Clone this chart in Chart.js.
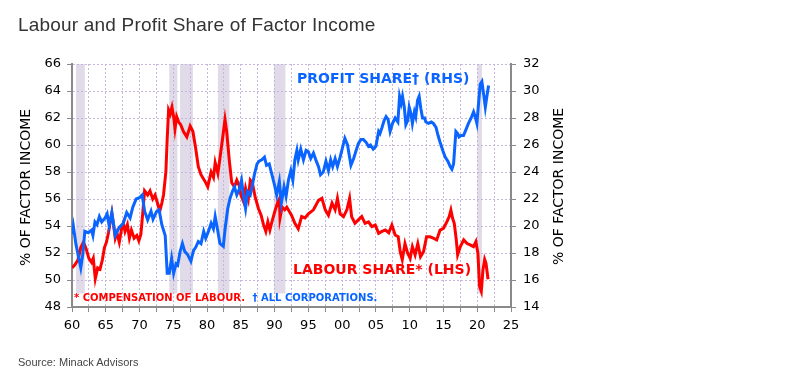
<!DOCTYPE html>
<html><head><meta charset="utf-8">
<script src="https://cdn.jsdelivr.net/npm/chart.js@4"></script>
<style>
html,body{margin:0;padding:0;background:#fff;}
#wrap{position:relative;width:800px;height:383px;overflow:hidden;background:#fff;}
#title{position:absolute;left:18px;top:15px;font:19px "Liberation Sans",Arial,sans-serif;letter-spacing:0.2px;color:#333;white-space:nowrap;line-height:1;}
#source{position:absolute;left:18px;top:357px;font:11px "Liberation Sans",Arial,sans-serif;color:#444;white-space:nowrap;line-height:1;}
canvas{position:absolute;left:0;top:0;}
</style></head><body>
<div id="wrap"><canvas id="c" width="800" height="383"></canvas>
<div id="title">Labour and Profit Share of Factor Income</div>
<div id="source">Source: Minack Advisors</div></div>
<script>
// ---- DATA ----
const labourYears = [1960.0,1960.4,1960.9,1961.3,1961.7,1962.1,1962.5,1962.9,1963.15,1963.45,1963.8,1964.15,1964.5,1964.8,1965.1,1965.4,1965.7,1965.9,1966.15,1966.4,1966.65,1967.0,1967.35,1967.6,1967.85,1968.2,1968.5,1968.8,1969.2,1969.6,1969.9,1970.2,1970.5,1970.75,1971.2,1971.55,1971.95,1972.3,1972.6,1973.0,1973.3,1973.55,1973.9,1974.1,1974.3,1974.55,1974.8,1975.05,1975.25,1975.5,1975.8,1976.1,1976.5,1977.0,1977.5,1977.9,1978.3,1978.7,1979.1,1979.7,1980.1,1980.6,1980.95,1981.2,1981.6,1981.9,1982.3,1982.65,1982.9,1983.3,1983.65,1984.05,1984.4,1984.75,1985.0,1985.4,1985.7,1986.1,1986.4,1986.7,1987.1,1987.6,1988.0,1988.35,1988.7,1989.0,1989.3,1989.6,1990.1,1990.5,1990.7,1990.8,1991.1,1991.5,1991.8,1992.5,1993.0,1993.5,1994.0,1994.5,1995.0,1995.75,1996.5,1997.0,1997.5,1997.97,1998.5,1998.96,1999.3,1999.7,2000.2,2000.7,2001.1,2001.4,2001.9,2002.4,2002.9,2003.4,2003.9,2004.4,2004.9,2005.4,2005.9,2006.4,2006.9,2007.36,2007.85,2008.3,2008.6,2008.9,2009.3,2009.7,2010.07,2010.4,2010.8,2011.2,2011.6,2012.05,2012.5,2013.0,2013.5,2014.0,2014.5,2015.0,2015.5,2015.85,2016.1,2016.35,2016.6,2016.9,2017.1,2017.5,2018.0,2018.5,2018.96,2019.45,2019.8,2020.1,2020.35,2020.6,2020.85,2021.1,2021.3,2021.6];
const labourShare = [50.9,51.1,51.5,52.4,52.8,52.3,51.6,51.3,51.6,50.1,50.9,50.8,51.5,52.4,52.8,53.5,54.4,54.95,54.1,53.1,53.5,52.8,53.8,54.2,53.6,54.1,53.1,53.7,53.1,53.3,52.9,53.4,55.1,56.6,56.3,56.6,56.0,56.3,55.8,55.1,55.7,56.3,58.0,60.5,62.6,62.3,62.8,62.1,61.2,62.1,61.7,61.5,61.0,60.6,61.4,61.0,59.8,58.4,57.8,57.3,56.9,58.0,57.6,58.7,57.9,59.0,60.5,61.9,61.0,58.8,57.2,56.9,57.4,57.0,56.3,55.8,56.8,56.0,57.4,57.2,56.2,55.3,54.8,54.1,53.6,54.3,53.7,54.3,55.2,55.8,56.0,54.6,55.4,55.2,55.4,54.8,54.2,53.8,54.7,54.6,54.9,55.2,55.9,56.05,55.2,54.8,55.7,55.2,56.05,54.9,54.7,55.2,56.05,54.7,54.2,54.45,54.7,54.2,54.3,53.95,54.07,53.46,53.6,53.7,53.5,54.07,53.33,53.2,52.1,51.5,52.7,51.98,51.6,52.47,51.86,52.7,51.73,52.1,53.2,53.2,53.1,52.97,53.7,53.83,54.3,54.7,55.18,54.57,54.2,52.97,51.86,52.47,52.97,52.7,52.6,52.47,52.84,51.98,49.5,49.15,50.75,51.53,51.24,50.06];

const profitYears = [1960.0,1960.2,1960.6,1960.9,1961.3,1961.6,1961.9,1962.4,1962.9,1963.1,1963.4,1963.7,1964.05,1964.4,1964.9,1965.2,1965.5,1965.9,1966.4,1967.0,1967.6,1968.1,1968.6,1969.0,1969.5,1970.0,1970.4,1970.75,1971.2,1971.7,1972.0,1972.5,1972.9,1973.3,1973.8,1974.1,1974.4,1974.75,1975.05,1975.4,1975.65,1976.0,1976.35,1976.7,1977.1,1977.6,1978.0,1978.3,1978.7,1979.1,1979.5,1979.8,1980.2,1980.6,1980.94,1981.2,1981.6,1981.9,1982.4,1982.67,1983.06,1983.4,1983.75,1984.05,1984.4,1984.75,1985.1,1985.4,1985.7,1986.0,1986.4,1986.7,1987.0,1987.4,1987.7,1988.1,1988.5,1988.8,1989.2,1989.6,1990.0,1990.3,1990.7,1991.0,1991.4,1991.7,1992.05,1992.4,1992.7,1993.0,1993.3,1993.5,1993.87,1994.27,1994.66,1995.0,1995.35,1995.75,1996.1,1996.5,1996.8,1997.2,1997.6,1997.97,1998.3,1998.6,1998.96,1999.3,1999.7,2000.1,2000.4,2000.8,2001.1,2001.3,2001.7,2002.07,2002.4,2002.76,2003.15,2003.55,2003.9,2004.2,2004.6,2005.0,2005.4,2005.6,2005.9,2006.2,2006.5,2006.8,2007.1,2007.46,2007.85,2008.25,2008.5,2008.74,2008.94,2009.2,2009.43,2009.7,2009.93,2010.2,2010.4,2010.7,2010.9,2011.16,2011.4,2011.65,2011.9,2012.2,2012.4,2012.8,2013.2,2013.5,2013.9,2014.2,2014.5,2014.9,2015.26,2015.65,2016.0,2016.25,2016.5,2016.64,2016.84,2017.1,2017.3,2017.6,2017.97,2018.3,2018.7,2019.1,2019.46,2019.7,2019.95,2020.2,2020.44,2020.69,2020.94,2021.2,2021.43,2021.68];
const profitShare = [19.4,20.0,18.6,17.9,16.9,17.9,19.6,19.5,19.7,19.3,20.3,20.1,20.7,20.3,20.6,20.9,20.0,21.0,19.3,19.9,20.2,21.0,20.6,21.4,22.0,22.1,22.3,21.1,20.45,21.1,20.5,21.05,21.2,20.1,19.3,16.5,16.5,17.6,16.5,17.2,17.1,18.1,18.7,18.1,17.9,17.4,18.2,18.4,18.85,18.7,19.6,19.1,19.6,20.2,19.8,20.7,19.6,18.7,18.5,19.8,21.3,22.05,22.55,22.9,22.3,22.7,23.4,22.2,21.3,22.55,22.3,23.0,23.8,24.6,24.8,24.9,25.1,24.5,24.6,23.8,23.0,22.3,23.3,21.7,22.9,22.2,23.4,24.1,23.4,24.9,25.6,24.9,25.7,24.9,25.6,25.5,25.0,25.4,24.9,24.4,23.8,24.0,24.8,24.1,24.9,24.4,25.0,24.4,25.1,25.9,26.5,26.0,25.1,24.5,25.0,25.6,26.1,26.4,26.4,26.2,25.9,26.0,25.7,25.9,27.0,26.85,27.3,27.8,28.1,27.9,27.0,27.6,28.0,27.7,29.6,29.1,29.6,28.8,27.5,27.8,28.8,28.3,27.6,28.45,28.1,29.3,29.6,28.7,28.0,28.0,27.7,27.6,27.7,27.6,27.3,26.7,26.2,25.6,25.1,24.8,24.4,24.2,24.6,25.6,27.0,26.85,26.6,26.7,26.7,27.1,27.6,28.0,28.45,28.1,27.6,29.1,30.5,30.7,29.8,28.8,29.6,30.4];

const recessionStarts = [1960.6, 1974.4, 1976.0, 1981.6, 1989.9, 2020.0];
const recessionEnds   = [1961.9, 1975.6, 1977.9, 1983.3, 1991.6, 2020.7];

const xRange = [1960, 2025, 2.5];   // min, max, step
const lhsRange = [48, 66, 2];
const rhsRange = [14, 32, 2];

const labels = {
  title: '% OF FACTOR INCOME',
  profit: 'PROFIT SHARE\u2020 (RHS)',
  labour: 'LABOUR SHARE* (LHS)',
  noteLabour: '* COMPENSATION OF LABOUR.',
  noteProfit: '\u2020 ALL CORPORATIONS.'
};

// ---- STYLE ----
const RED = '#ff0000', BLUE = '#0a64ff';
const GRID = '#c6b6da', AXIS = '#8a8a8a';
const TICKFONT = {family: '"DejaVu Sans", Verdana, sans-serif', size: 13};

const toXY = (xs, ys) => xs.map((x, i) => ({x, y: ys[i]}));

const shading = {
  id: 'shading',
  beforeDraw(chart) {
    const {ctx, scales: {x, y}} = chart;
    ctx.save();
    ctx.fillStyle = '#e1dbe9';
    const top = y.getPixelForValue(lhsRange[1]);
    const bot = y.getPixelForValue(49);
    recessionStarts.forEach((s, i) => {
      const a = x.getPixelForValue(s), b = x.getPixelForValue(recessionEnds[i]);
      ctx.fillRect(a, top, b - a, bot - top);
    });
    ctx.restore();
  }
};

const texts = {
  id: 'texts',
  afterDraw(chart) {
    const {ctx, chartArea: ca} = chart;
    ctx.save();
    ctx.textBaseline = 'middle';
    ctx.fillStyle = '#000';
    ctx.font = '14px "DejaVu Sans", Verdana, sans-serif';
    ctx.textAlign = 'center';
    const midY = (ca.top + ca.bottom) / 2 + 2;
    [[26.5, midY], [559, midY - 1]].forEach(([px, py]) => {
      ctx.save(); ctx.translate(px, py); ctx.rotate(-Math.PI / 2);
      ctx.fillText(labels.title, 0, 0); ctx.restore();
    });
    ctx.textAlign = 'left';
    ctx.font = 'bold 14px "DejaVu Sans", Verdana, sans-serif';
    ctx.fillStyle = BLUE; ctx.fillText(labels.profit, 297, 79);
    ctx.fillStyle = RED;  ctx.fillText(labels.labour, 293, 270);
    ctx.font = 'bold 10px "DejaVu Sans", Verdana, sans-serif';
    ctx.fillStyle = RED;  ctx.fillText(labels.noteLabour, 74, 298.5);
    ctx.fillStyle = BLUE; ctx.fillText(labels.noteProfit, 252.5, 298.5);
    ctx.restore();
  }
};

new Chart(document.getElementById('c'), {
  type: 'line',
  data: {
    datasets: [
      {label: 'Profit share', data: toXY(profitYears, profitShare), yAxisID: 'y1',
       borderColor: BLUE, borderWidth: 3, pointRadius: 0, tension: 0, fill: false},
      {label: 'Labour share', data: toXY(labourYears, labourShare), yAxisID: 'y',
       borderColor: RED, borderWidth: 3, pointRadius: 0, tension: 0, fill: false}
    ]
  },
  options: {
    responsive: false, animation: false, devicePixelRatio: 1,
    layout: {padding: {top: 64, left: 0, right: 219, bottom: 46}},
    plugins: {legend: {display: false}, tooltip: {enabled: false}, title: {display: false}},
    scales: {
      x: {
        type: 'linear', min: xRange[0], max: xRange[1],
        ticks: {stepSize: xRange[2], autoSkip: false, maxRotation: 0, color: '#000', font: TICKFONT, padding: 6,
          callback: v => (v % 5 === 0) ? String(((v % 100) + 100) % 100).padStart(2, '0') : ''},
        grid: {color: GRID, lineWidth: 1, tickLength: 5, tickColor: AXIS, tickWidth: 1, tickBorderDash: []},
        border: {display: true, color: AXIS, width: 2, dash: [2, 2]},
        afterFit: s => { s.height = 30; }
      },
      y: {
        position: 'left', min: lhsRange[0], max: lhsRange[1],
        ticks: {stepSize: lhsRange[2], color: '#000', font: TICKFONT, padding: 6},
        grid: {color: GRID, lineWidth: 1, tickLength: 5, tickColor: AXIS, tickWidth: 1, tickBorderDash: []},
        border: {display: true, color: AXIS, width: 2, dash: [2, 2]},
        afterFit: s => { s.width = 72; }
      },
      y1: {
        position: 'right', min: rhsRange[0], max: rhsRange[1],
        ticks: {stepSize: rhsRange[2], color: '#000', font: TICKFONT, padding: 7},
        grid: {drawOnChartArea: false, tickLength: 5, tickColor: AXIS, tickWidth: 1},
        border: {display: true, color: AXIS, width: 2},
        afterFit: s => { s.width = 70; }
      }
    }
  },
  plugins: [shading, texts]
});
</script>
</body></html>
